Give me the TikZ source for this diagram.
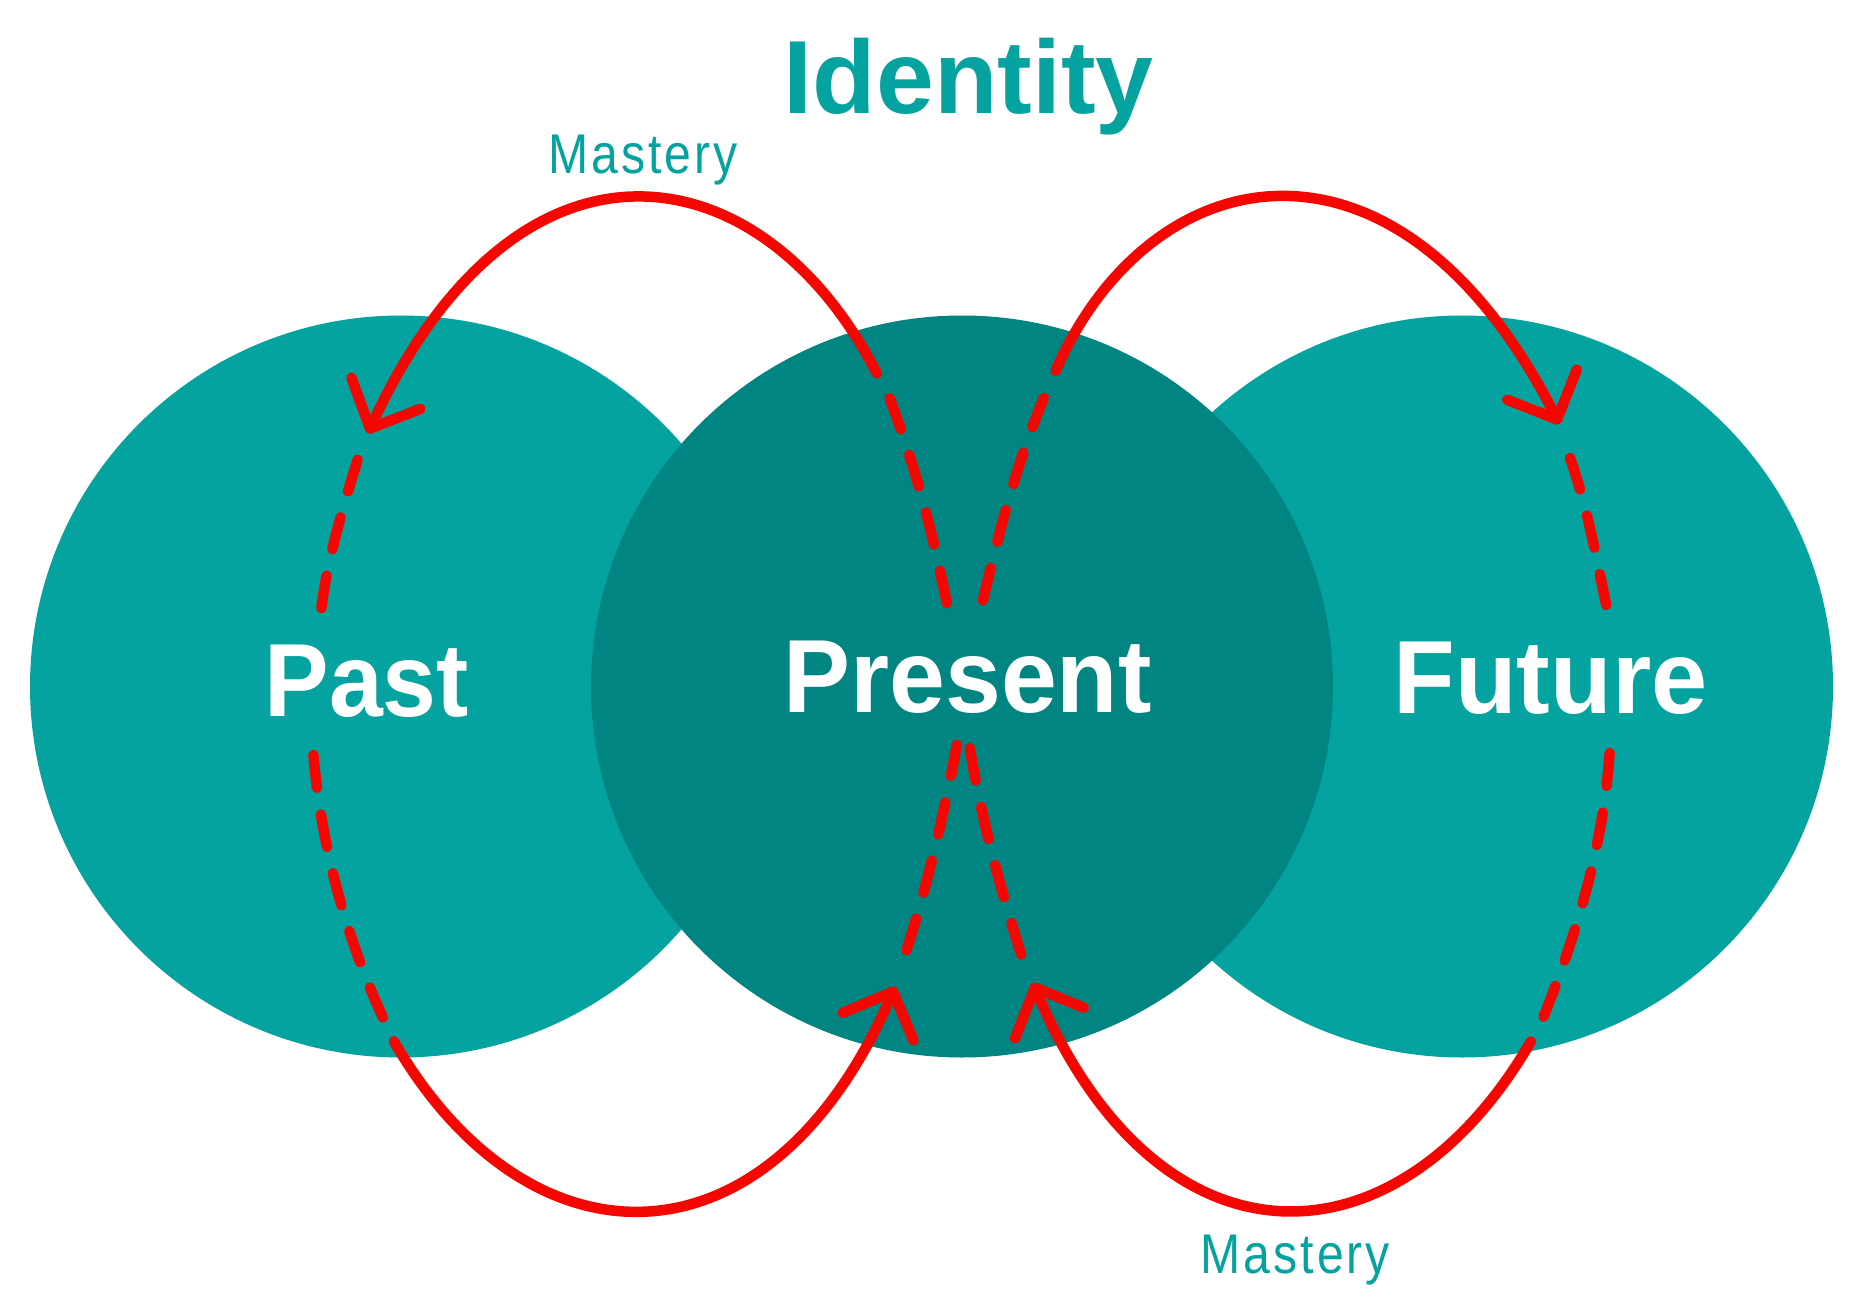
\documentclass[tikz,border=0pt]{standalone}
\usepackage{fontspec}
\setmainfont{Liberation Sans}
\definecolor{tealA}{RGB}{5,163,160}
\definecolor{tealB}{RGB}{0,133,131}
\definecolor{redA}{RGB}{245,7,0}
\newcommand{\masteryword}{\scalebox{0.86}[1]{M\kern3.5pt a\kern3.5pt s\kern3.5pt t\kern3.5pt e\kern3.5pt r\kern3.5pt y}}
\begin{document}
\begin{tikzpicture}[x=1pt,y=-1pt,
  disc/.style={circle, minimum size=742pt, inner sep=0pt, draw=none},
  solidarc/.style={draw=redA, line width=10.5pt, line cap=round, line join=round},
  dashedarc/.style={solidarc, dash pattern=on 33pt off 27pt},
  biglabel/.style={text=white, font=\bfseries\fontsize{104}{104}\selectfont, anchor=base, inner sep=0pt},
  titlelabel/.style={text=tealA, font=\bfseries\fontsize{104}{104}\selectfont, anchor=base, inner sep=0pt},
  masterylabel/.style={text=tealA, font=\fontsize{56}{56}\selectfont, anchor=base, inner sep=0pt}
]
\fill[white] (0,0) rectangle (1852,1305);
\useasboundingbox (0,0) rectangle (1852,1305);

% circles
\node[disc, fill=tealA] (past) at (401,686.5) {};
\node[disc, fill=tealA] (future) at (1462,686.5) {};
\node[disc, fill=tealB] (present) at (962,686.5) {};

% labels
\node[titlelabel] (title) at (968.75,114) {Identity};
\node[masterylabel] (mtop) at (643,173.3) {\masteryword};
\node[masterylabel] (mbot) at (1295.3,1273.3) {\masteryword};
\node[biglabel] (pastlbl) at (366.8,716) {\scalebox{0.93}[1]{Past}};
\node[biglabel] (presentlbl) at (967.5,712.7) {\scalebox{0.965}[1]{Present}};
\node[biglabel] (futurelbl) at (1550.5,713.3) {\scalebox{0.97}[1]{Future}};

% ---- Past loop ----
\coordinate (a0s) at (946.7,603.1);
\coordinate (a0e) at (889.5,398);
\coordinate (a2s) at (876.8,373.5);
\coordinate (tipA) at (370,428.5);
\coordinate (bA1) at (351.4,377.8);
\coordinate (bA2) at (420.3,408.9);
\coordinate (a3s) at (357.6,459.8);
\coordinate (a3e) at (321.4,608.1);
\coordinate (a4s) at (313.4,755);
\coordinate (a4e) at (382.9,1017.5);
\coordinate (a5s) at (393.8,1041.2);
\coordinate (tipC) at (893,991.6);
\coordinate (bC1) at (842.8,1012.8);
\coordinate (bC2) at (913.4,1040.3);
\coordinate (a6s) at (906.5,950.2);
\coordinate (a6e) at (956.8,744.9);

\draw[dashedarc] (a0s) .. controls (932.7,533.1) and (915.8,468) .. (a0e);
\draw[solidarc] (a2s) .. controls (764,151) and (517,105.5) .. (tipA);
\draw[solidarc] (bA1) -- (tipA) -- (bA2);
\draw[dashedarc] (a3s) .. controls (345,500) and (327,560) .. (a3e);
\draw[dashedarc] (a4s) .. controls (320.7,840) and (343.6,932) .. (a4e);
\draw[solidarc] (a5s) .. controls (528.8,1275) and (772,1278) .. (tipC);
\draw[solidarc] (bC1) -- (tipC) -- (bC2);
\draw[dashedarc] (a6s) .. controls (928.5,880) and (943.9,815) .. (a6e);

% ---- Future loop ----
\coordinate (b0s) at (982.9,600.1);
\coordinate (b0e) at (1043.8,397.9);
\coordinate (b1s) at (1055.6,370.7);
\coordinate (tipB) at (1557,419.4);
\coordinate (bB1) at (1507.2,399.8);
\coordinate (bB2) at (1576.7,369.8);
\coordinate (b2s) at (1570,458);
\coordinate (b2e) at (1606.2,605);
\coordinate (b3s) at (1609.6,753);
\coordinate (b3e) at (1542.9,1018.4);
\coordinate (b4s) at (1530.8,1041.5);
\coordinate (tipD) at (1034.9,987.6);
\coordinate (bD1) at (1083.8,1007.8);
\coordinate (bD2) at (1015,1038.3);
\coordinate (b5s) at (1021.2,954.5);
\coordinate (b5e) at (969.8,748.2);

\draw[dashedarc] (b0s) .. controls (999.7,530.1) and (1015.1,467.9) .. (b0e);
\draw[solidarc] (b1s) .. controls (1152,151) and (1402,108) .. (tipB);
\draw[solidarc] (bB1) -- (tipB) -- (bB2);
\draw[dashedarc] (b2s) .. controls (1587.5,508) and (1595.7,555) .. (b2e);
\draw[dashedarc] (b3s) .. controls (1603.3,843) and (1578.9,928.4) .. (b3e);
\draw[solidarc] (b4s) .. controls (1396,1275) and (1155,1278) .. (tipD);
\draw[solidarc] (bD1) -- (tipD) -- (bD2);
\draw[dashedarc] (b5s) .. controls (999,884.5) and (981.5,818.2) .. (b5e);
\end{tikzpicture}
\end{document}
